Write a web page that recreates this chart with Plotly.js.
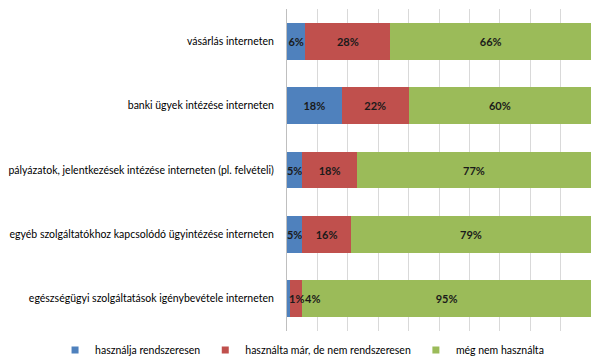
<!DOCTYPE html>
<html>
<head>
<meta charset="utf-8">
<script src="https://cdn.plot.ly/plotly-3.0.1.min.js"></script>
<style>html,body{margin:0;padding:0;background:#fff;}#chart{width:594px;height:359px;}</style>
</head>
<body>
<div id="chart"></div>
<script>
const categories = [
  'vásárlás interneten',
  'banki ügyek intézése interneten',
  'pályázatok, jelentkezések intézése interneten (pl. felvételi)',
  'egyéb szolgáltatókhoz kapcsolódó ügyintézése interneten',
  'egészségügyi szolgáltatások igénybevétele interneten'
];
const seriesNames = ['használja rendszeresen', 'használta már, de nem rendszeresen', 'még nem használta'];
const regular = [6, 18, 5, 5, 1];
const occasional = [28, 22, 18, 16, 4];
const never = [66, 60, 77, 79, 95];
const colors = ['#4F81BD', '#C0504D', '#9BBB59'];

const FONT = 'Lato, "Open Sans", sans-serif';
const series = [regular, occasional, never];
const SMALL = 5;

const traces = [];
series.forEach((vals, i) => {
  traces.push({
    type: 'bar', orientation: 'h',
    y: categories, x: vals,
    name: seriesNames[i],
    marker: {color: colors[i]},
    text: vals.map(v => v + '%'),
    textposition: vals.map(v => v < SMALL ? 'none' : 'inside'),
    insidetextanchor: 'middle',
    textangle: 0,
    constraintext: 'none',
    textfont: {family: FONT, size: 11, color: '#1a1a1a', weight: 'bold'},
    showlegend: false,
    hoverinfo: 'skip'
  });
});
// legend entries with small square markers
series.forEach((vals, i) => {
  traces.push({
    type: 'scatter', mode: 'markers', x: [null], y: [null],
    name: seriesNames[i],
    marker: {symbol: 'square', size: 7, color: colors[i]},
    showlegend: true, hoverinfo: 'skip'
  });
});

// labels for very small segments, placed through data coordinates
const annotations = [];
categories.forEach((c, r) => {
  let cum = 0; let prevSmall = false;
  series.forEach((vals, i) => {
    const v = vals[r];
    if (v < SMALL) {
      annotations.push({
        x: prevSmall ? cum + v : cum, y: c, xref: 'x', yref: 'y',
        text: '<b>' + v + '%</b>', showarrow: false, xanchor: 'left',
        xshift: prevSmall ? 1 : 0,
        font: {family: FONT, size: 11, color: '#1a1a1a'}
      });
      prevSmall = true;
    } else prevSmall = false;
    cum += v;
  });
});

const layout = {
  width: 594, height: 359,
  margin: {l: 287, r: 3, t: 9, b: 28, autoexpand: false},
  paper_bgcolor: '#fff', plot_bgcolor: '#fff',
  barmode: 'stack', bargap: 0.43,
  font: {family: FONT, size: 10.5, color: '#000'},
  xaxis: {range: [0, 100], dtick: 10, showticklabels: false, showgrid: true,
          gridcolor: '#d9d9d9', gridwidth: 1, zeroline: false, fixedrange: true},
  yaxis: {autorange: 'reversed', showline: true, linecolor: '#bfbfbf', linewidth: 1,
          ticks: '', ticklabelstandoff: 10, tickfont: {family: FONT, size: 10.5, color: '#000'},
          fixedrange: true},
  legend: {orientation: 'h', xref: 'paper', x: -0.763, xanchor: 'left',
           yref: 'paper', y: -0.059, yanchor: 'middle',
           font: {family: FONT, size: 10.5, color: '#000'}, itemwidth: 30, traceorder: 'normal'},
  annotations: annotations,
  showlegend: true
};

Plotly.newPlot('chart', traces, layout, {displayModeBar: false, staticPlot: true});
</script>
</body>
</html>
